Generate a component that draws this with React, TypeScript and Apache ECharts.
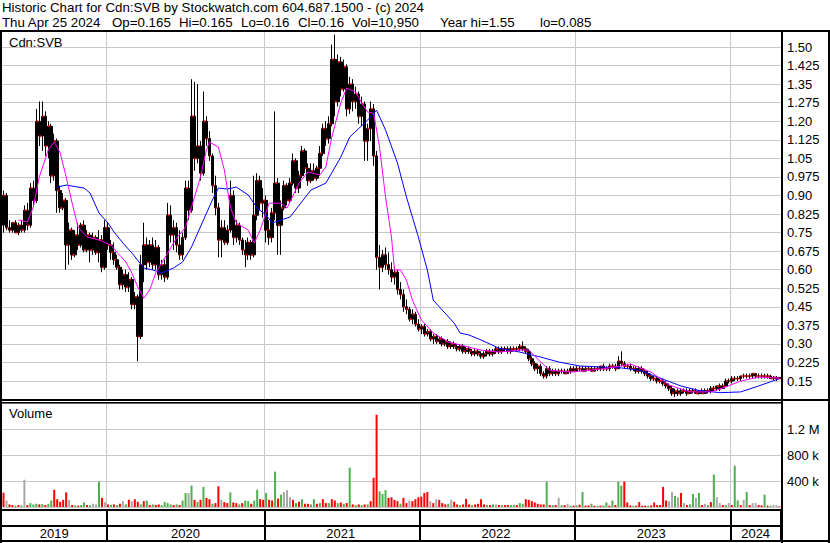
import React, { useEffect, useRef } from 'react';
import * as echarts from 'echarts';

// ---- data (weekly, first week ending Thu 2019-05-02, last 2024-04-25) ----
const startDate = '2019-05-02';
const weekCount = 261;

const opens = [
  0.78, 0.90, 0.77, 0.76, 0.79, 0.75, 0.78, 0.76, 0.84, 0.78,
  0.93, 0.88, 1.20, 1.14, 1.22, 1.10, 1.18, 0.98, 1.12, 0.92,
  0.85, 0.88, 0.70, 0.76, 0.66, 0.74, 0.70, 0.78, 0.68, 0.74,
  0.68, 0.73, 0.67, 0.72, 0.61, 0.77, 0.70, 0.67, 0.64, 0.61,
  0.54, 0.58, 0.53, 0.56, 0.46, 0.49, 0.33, 0.62, 0.70, 0.63,
  0.70, 0.62, 0.69, 0.58, 0.62, 0.57, 0.82, 0.74, 0.77, 0.70,
  0.66, 0.73, 0.93, 0.84, 1.22, 1.05, 1.10, 0.99, 1.20, 1.13,
  1.06, 0.94, 0.85, 0.72, 0.77, 0.71, 0.76, 0.90, 0.73, 0.78,
  0.72, 0.68, 0.66, 0.71, 0.66, 0.82, 0.96, 0.87, 0.88, 0.76,
  0.73, 0.83, 0.95, 0.78, 0.85, 0.94, 0.88, 0.95, 1.04, 0.93,
  0.98, 1.08, 1.01, 0.96, 1.00, 0.97, 1.01, 1.07, 1.17, 1.13,
  1.19, 1.45, 1.28, 1.44, 1.33, 1.42, 1.25, 1.35, 1.28, 1.31,
  1.22, 1.27, 1.12, 1.17, 1.25, 1.06, 0.65, 0.61, 0.66, 0.62,
  0.60, 0.57, 0.59, 0.52, 0.50, 0.45, 0.44, 0.40, 0.42, 0.38,
  0.36, 0.37, 0.34, 0.35, 0.32, 0.33, 0.31, 0.32, 0.30, 0.31,
  0.29, 0.30, 0.29, 0.28, 0.29, 0.27, 0.28, 0.27, 0.26, 0.27,
  0.26, 0.25, 0.26, 0.27, 0.26, 0.27, 0.28, 0.27, 0.28, 0.28,
  0.27, 0.28, 0.28, 0.28, 0.29, 0.28, 0.27, 0.24, 0.22, 0.20,
  0.21, 0.18, 0.17, 0.20, 0.18, 0.19, 0.18, 0.19, 0.19, 0.18,
  0.19, 0.20, 0.19, 0.20, 0.20, 0.19, 0.20, 0.20, 0.19, 0.20,
  0.20, 0.21, 0.20, 0.20, 0.21, 0.21, 0.20, 0.23, 0.22, 0.21,
  0.21, 0.20, 0.20, 0.19, 0.20, 0.19, 0.18, 0.17, 0.16, 0.16,
  0.15, 0.15, 0.14, 0.13, 0.12, 0.10, 0.11, 0.10, 0.11, 0.11,
  0.10, 0.11, 0.11, 0.10, 0.11, 0.10, 0.11, 0.11, 0.12, 0.12,
  0.13, 0.12, 0.13, 0.15, 0.15, 0.16, 0.16, 0.16, 0.17, 0.17,
  0.17, 0.17, 0.18, 0.17, 0.17, 0.17, 0.17, 0.17, 0.16, 0.165,
  0.165,
];
const highs = [
  0.92, 0.91, 0.80, 0.79, 0.80, 0.79, 0.80, 0.86, 0.87, 0.95,
  0.96, 1.25, 1.28, 1.28, 1.24, 1.20, 1.19, 1.15, 1.13, 0.94,
  0.91, 0.89, 0.79, 0.77, 0.76, 0.79, 0.79, 0.80, 0.76, 0.75,
  0.75, 0.74, 0.76, 0.74, 0.80, 0.79, 0.72, 0.71, 0.66, 0.62,
  0.60, 0.60, 0.59, 0.57, 0.51, 0.50, 0.66, 0.79, 0.73, 0.72,
  0.73, 0.72, 0.70, 0.64, 0.64, 0.87, 0.86, 0.80, 0.79, 0.76,
  0.75, 0.96, 0.96, 1.37, 1.36, 1.35, 1.12, 1.32, 1.22, 1.16,
  1.07, 0.98, 0.87, 0.80, 0.80, 0.78, 0.96, 0.92, 0.80, 0.79,
  0.73, 0.72, 0.73, 0.72, 0.98, 0.99, 0.98, 0.93, 0.90, 0.80,
  0.85, 1.24, 0.97, 0.88, 0.96, 0.95, 0.97, 1.07, 1.05, 1.00,
  1.10, 1.09, 1.03, 1.03, 1.03, 1.02, 1.10, 1.19, 1.20, 1.22,
  1.51, 1.55, 1.47, 1.46, 1.45, 1.43, 1.38, 1.37, 1.34, 1.32,
  1.30, 1.28, 1.19, 1.28, 1.27, 1.08, 0.70, 0.68, 0.69, 0.67,
  0.63, 0.61, 0.60, 0.55, 0.52, 0.48, 0.45, 0.44, 0.43, 0.40,
  0.38, 0.38, 0.36, 0.36, 0.34, 0.34, 0.33, 0.33, 0.32, 0.32,
  0.31, 0.31, 0.30, 0.30, 0.30, 0.29, 0.29, 0.28, 0.28, 0.28,
  0.27, 0.27, 0.28, 0.28, 0.28, 0.29, 0.29, 0.29, 0.29, 0.29,
  0.29, 0.29, 0.29, 0.30, 0.31, 0.29, 0.28, 0.25, 0.23, 0.22,
  0.22, 0.19, 0.21, 0.21, 0.20, 0.20, 0.20, 0.20, 0.20, 0.20,
  0.21, 0.21, 0.21, 0.21, 0.21, 0.21, 0.21, 0.21, 0.21, 0.21,
  0.21, 0.22, 0.21, 0.22, 0.22, 0.22, 0.25, 0.27, 0.23, 0.22,
  0.22, 0.21, 0.21, 0.21, 0.21, 0.20, 0.19, 0.18, 0.17, 0.17,
  0.16, 0.16, 0.15, 0.14, 0.13, 0.12, 0.12, 0.12, 0.12, 0.12,
  0.12, 0.12, 0.12, 0.11, 0.12, 0.12, 0.12, 0.13, 0.13, 0.13,
  0.14, 0.14, 0.16, 0.16, 0.17, 0.17, 0.17, 0.17, 0.18, 0.18,
  0.18, 0.18, 0.18, 0.18, 0.18, 0.18, 0.18, 0.175, 0.17, 0.17,
  0.165,
];
const lows = [
  0.75, 0.76, 0.75, 0.75, 0.75, 0.74, 0.75, 0.75, 0.76, 0.77,
  0.86, 0.87, 1.10, 1.08, 1.06, 1.05, 0.95, 0.96, 0.83, 0.83,
  0.84, 0.60, 0.62, 0.64, 0.65, 0.68, 0.69, 0.67, 0.67, 0.63,
  0.66, 0.66, 0.63, 0.59, 0.60, 0.68, 0.64, 0.62, 0.60, 0.52,
  0.52, 0.51, 0.51, 0.44, 0.44, 0.23, 0.32, 0.55, 0.60, 0.61,
  0.60, 0.60, 0.56, 0.56, 0.55, 0.56, 0.71, 0.68, 0.67, 0.64,
  0.64, 0.72, 0.80, 0.83, 1.00, 1.03, 0.96, 0.98, 1.10, 1.04,
  0.91, 0.82, 0.65, 0.65, 0.70, 0.70, 0.75, 0.70, 0.71, 0.70,
  0.66, 0.61, 0.64, 0.64, 0.65, 0.80, 0.84, 0.81, 0.71, 0.70,
  0.71, 0.80, 0.66, 0.66, 0.84, 0.86, 0.87, 0.94, 0.91, 0.91,
  0.97, 0.99, 0.94, 0.95, 0.96, 0.96, 0.98, 1.06, 1.10, 1.11,
  1.18, 1.22, 1.26, 1.30, 1.32, 1.22, 1.23, 1.24, 1.25, 1.19,
  1.18, 1.04, 1.04, 1.12, 1.02, 0.60, 0.52, 0.59, 0.60, 0.58,
  0.55, 0.54, 0.50, 0.48, 0.43, 0.42, 0.39, 0.38, 0.37, 0.35,
  0.34, 0.33, 0.33, 0.31, 0.30, 0.30, 0.30, 0.29, 0.29, 0.28,
  0.28, 0.28, 0.27, 0.27, 0.26, 0.26, 0.26, 0.25, 0.25, 0.25,
  0.24, 0.24, 0.25, 0.25, 0.25, 0.26, 0.26, 0.26, 0.27, 0.26,
  0.26, 0.27, 0.27, 0.27, 0.27, 0.26, 0.23, 0.21, 0.19, 0.18,
  0.17, 0.16, 0.16, 0.17, 0.17, 0.17, 0.17, 0.18, 0.18, 0.18,
  0.18, 0.19, 0.19, 0.19, 0.19, 0.19, 0.19, 0.19, 0.19, 0.19,
  0.19, 0.19, 0.19, 0.19, 0.20, 0.19, 0.20, 0.21, 0.20, 0.20,
  0.19, 0.19, 0.18, 0.18, 0.18, 0.17, 0.16, 0.15, 0.15, 0.14,
  0.14, 0.13, 0.12, 0.11, 0.09, 0.085, 0.09, 0.09, 0.10, 0.09,
  0.10, 0.10, 0.10, 0.095, 0.10, 0.10, 0.10, 0.10, 0.11, 0.11,
  0.11, 0.12, 0.13, 0.14, 0.14, 0.15, 0.15, 0.15, 0.16, 0.16,
  0.16, 0.16, 0.16, 0.16, 0.16, 0.16, 0.16, 0.16, 0.155, 0.15,
  0.16,
];
const closes = [
  0.90, 0.77, 0.76, 0.79, 0.75, 0.78, 0.76, 0.84, 0.78, 0.93,
  0.88, 1.20, 1.14, 1.22, 1.10, 1.18, 0.98, 1.12, 0.92, 0.85,
  0.88, 0.70, 0.76, 0.66, 0.74, 0.70, 0.78, 0.68, 0.74, 0.68,
  0.73, 0.67, 0.72, 0.61, 0.77, 0.70, 0.67, 0.64, 0.61, 0.54,
  0.58, 0.53, 0.56, 0.46, 0.49, 0.33, 0.62, 0.70, 0.63, 0.70,
  0.62, 0.69, 0.58, 0.62, 0.57, 0.82, 0.74, 0.77, 0.70, 0.66,
  0.73, 0.93, 0.84, 1.22, 1.05, 1.10, 0.99, 1.20, 1.13, 1.06,
  0.94, 0.85, 0.72, 0.77, 0.71, 0.76, 0.90, 0.73, 0.78, 0.72,
  0.68, 0.66, 0.71, 0.66, 0.82, 0.96, 0.87, 0.88, 0.76, 0.73,
  0.83, 0.95, 0.78, 0.85, 0.94, 0.88, 0.95, 1.04, 0.93, 0.98,
  1.08, 1.01, 0.96, 1.00, 0.97, 1.01, 1.07, 1.17, 1.13, 1.19,
  1.45, 1.28, 1.44, 1.33, 1.42, 1.25, 1.35, 1.28, 1.31, 1.22,
  1.27, 1.12, 1.17, 1.25, 1.06, 0.65, 0.61, 0.66, 0.62, 0.60,
  0.57, 0.59, 0.52, 0.50, 0.45, 0.44, 0.40, 0.42, 0.38, 0.36,
  0.37, 0.34, 0.35, 0.32, 0.33, 0.31, 0.32, 0.30, 0.31, 0.29,
  0.30, 0.29, 0.28, 0.29, 0.27, 0.28, 0.27, 0.26, 0.27, 0.26,
  0.25, 0.26, 0.27, 0.26, 0.27, 0.28, 0.27, 0.28, 0.28, 0.27,
  0.28, 0.28, 0.28, 0.29, 0.28, 0.27, 0.24, 0.22, 0.20, 0.21,
  0.18, 0.17, 0.20, 0.18, 0.19, 0.18, 0.19, 0.19, 0.18, 0.19,
  0.20, 0.19, 0.20, 0.20, 0.19, 0.20, 0.20, 0.19, 0.20, 0.20,
  0.21, 0.20, 0.20, 0.21, 0.21, 0.20, 0.23, 0.22, 0.21, 0.21,
  0.20, 0.20, 0.19, 0.20, 0.19, 0.18, 0.17, 0.16, 0.16, 0.15,
  0.15, 0.14, 0.13, 0.12, 0.10, 0.11, 0.10, 0.11, 0.11, 0.10,
  0.11, 0.11, 0.10, 0.11, 0.10, 0.11, 0.11, 0.12, 0.12, 0.13,
  0.12, 0.13, 0.15, 0.15, 0.16, 0.16, 0.16, 0.17, 0.17, 0.17,
  0.17, 0.18, 0.17, 0.17, 0.17, 0.17, 0.17, 0.16, 0.165, 0.16,
  0.16,
];
// weekly volume, thousands of shares
const volumesK = [
  220, 100, 40, 30, 20, 30, 25, 420, 30, 60,
  40, 50, 40, 45, 30, 50, 100, 265, 120, 80,
  110, 225, 110, 30, 25, 20, 30, 70, 30, 25,
  50, 40, 390, 140, 75, 40, 35, 40, 30, 50,
  90, 40, 110, 90, 120, 80, 40, 90, 100, 30,
  40, 30, 40, 30, 75, 60, 40, 30, 40, 30,
  100, 215, 215, 330, 110, 80, 110, 310, 140, 120,
  50, 60, 320, 110, 75, 60, 225, 70, 60, 40,
  60, 100, 90, 50, 100, 265, 120, 110, 215, 110,
  100, 545, 130, 190, 230, 260, 150, 110, 60, 80,
  120, 50, 50, 40, 120, 50, 60, 120, 60, 60,
  120, 100, 60, 70, 50, 60, 605, 40, 30, 40,
  30, 40, 40, 90, 450, 1420, 240, 200, 260, 140,
  150, 110, 90, 50, 140, 60, 100, 90, 120, 150,
  160, 215, 230, 90, 60, 120, 110, 60, 40, 50,
  110, 80, 40, 30, 40, 125, 40, 30, 40, 50,
  120, 40, 30, 30, 40, 40, 30, 30, 30, 30,
  30, 35, 30, 60, 50, 120, 110, 90, 70, 50,
  40, 40, 390, 30, 30, 30, 140, 30, 30, 50,
  20, 20, 25, 35, 230, 20, 25, 50, 20, 20,
  20, 25, 70, 20, 100, 30, 390, 330, 390, 70,
  25, 20, 20, 75, 20, 20, 20, 25, 70, 30,
  30, 310, 100, 90, 230, 170, 150, 215, 60, 30,
  40, 200, 140, 215, 30, 50, 30, 75, 500, 150,
  60, 30, 30, 60, 30, 635, 100, 30, 110, 230,
  30, 60, 60, 30, 25, 190, 20, 20, 30, 25,
  11,
];
// g = up week, r = down week, n = unchanged
const volumeTrend = (
  'rnrrgrgnrg' + 'ggrgrggrrr' + 'rrnrgrggrg' + 'nngrnrgrgr' + 'ngrnrrgrgr' +
  'grrggggrgr' + 'ggngrgrgrr' + 'grrnrrgrrg' + 'rggrggrrgr' + 'rgrgnnnrgr' +
  'grrggrgrrg' + 'rrgrgrgrgr' + 'grgrrrgggr' + 'rrrgrrnrrr' + 'rrrnrnrrrg' +
  'nrrgrrrgrr' + 'rrgrgnrgrr' + 'ggrggrrrrr' + 'rrgrgrngrn' + 'grgrgrrgrg' +
  'rggrgrggrr' + 'rgrrrrgrrr' + 'rrrnngnrnr' + 'ggngrngrgn' + 'nrgnrggrng' +
  'rnnrrgrgnn' + 'r'
).split('');

// moving averages: [week index, price]
const maShort: [number, number][] = [
  [5, 0.801], [8, 0.793], [10, 0.853], [12, 0.975], [15, 1.084], [17, 1.117], [19, 1.072],
  [21, 0.975], [23, 0.869], [25, 0.772], [28, 0.732], [32, 0.72], [36, 0.7], [38, 0.671],
  [41, 0.631], [43, 0.587], [45, 0.53], [47, 0.485], [49, 0.518], [51, 0.587], [55, 0.667],
  [58, 0.728], [61, 0.772], [63, 0.853], [66, 0.975], [68, 1.084], [69, 1.116], [72, 1.096],
  [74, 1.003], [76, 0.853], [78, 0.789], [82, 0.76], [84, 0.708], [86, 0.76], [89, 0.869],
  [93, 0.869], [95, 0.849], [99, 0.95], [102, 0.995], [106, 0.983], [108, 1.015], [110, 1.136],
  [113, 1.274], [115, 1.334], [118, 1.318], [120, 1.274], [122, 1.237], [124, 1.233],
  [126, 1.096], [128, 0.894], [130, 0.732], [131, 0.599], [133, 0.599], [135, 0.558],
  [137, 0.477], [140, 0.397], [144, 0.344], [149, 0.308], [153, 0.296], [160, 0.275],
  [166, 0.267], [173, 0.275], [176, 0.275], [180, 0.227], [183, 0.194], [190, 0.186],
  [200, 0.198], [207, 0.211], [210, 0.219], [217, 0.186], [223, 0.134], [230, 0.106],
  [237, 0.106], [242, 0.126], [247, 0.15], [253, 0.166], [260, 0.162],
];
const maLong: [number, number][] = [
  [18, 0.934], [21, 0.942], [27, 0.93], [29, 0.91], [32, 0.829], [35, 0.789], [37, 0.753],
  [40, 0.708], [43, 0.668], [47, 0.607], [50, 0.599], [53, 0.587], [57, 0.607], [60, 0.631],
  [63, 0.692], [67, 0.801], [70, 0.882], [72, 0.93], [75, 0.926], [78, 0.934], [82, 0.902],
  [85, 0.849], [88, 0.821], [90, 0.789], [93, 0.801], [96, 0.813], [103, 0.922], [108, 0.95],
  [113, 1.055], [116, 1.136], [122, 1.205], [125, 1.245], [128, 1.165], [132, 1.031],
  [135, 0.894], [139, 0.732], [142, 0.599], [144, 0.477], [147, 0.437], [151, 0.384],
  [153, 0.344], [156, 0.336], [160, 0.316], [166, 0.283], [173, 0.267], [180, 0.247],
  [186, 0.227], [193, 0.211], [200, 0.207], [207, 0.203], [213, 0.194], [220, 0.162],
  [227, 0.13], [233, 0.112], [240, 0.103], [247, 0.106], [253, 0.13], [260, 0.16],
];

const titleLine1 = 'Historic Chart for Cdn:SVB by Stockwatch.com 604.687.1500 - (c) 2024';
const titleLine2Parts = [
  'Thu Apr 25 2024', 'Op=0.165', 'Hi=0.165', 'Lo=0.16', 'Cl=0.16', 'Vol=10,950', 'Year hi=1.55', 'lo=0.085',
];
const titleLine2X = [2, 112, 179, 241, 298, 352, 440, 540];
const priceLabel = 'Cdn:SVB';
const volumeLabel = 'Volume';

const FONT = '"Liberation Sans", Arial, Helvetica, sans-serif';
const GRID_GRAY = '#c8c8c8';

function buildWeeks(start: string, n: number): string[] {
  const out: string[] = [];
  const t0 = Date.parse(start + 'T00:00:00Z');
  for (let i = 0; i < n; i++) {
    out.push(new Date(t0 + i * 7 * 86400000).toISOString().slice(0, 10));
  }
  return out;
}

export default function App() {
  const ref = useRef<HTMLDivElement>(null);
  useEffect(() => {
    if (!ref.current) return;
    const chart = echarts.init(ref.current, null, { renderer: 'svg' });
    const weeks = buildWeeks(startDate, weekCount);
    const years = weeks.map((d) => d.slice(0, 4));
    const boundary = new Set<number>();
    years.forEach((y, i) => { if (i > 0 && y !== years[i - 1]) boundary.add(i); });
    const labelIdx = new Set<number>();
    const firstIdx: Record<string, number> = {};
    const lastIdx: Record<string, number> = {};
    years.forEach((y, i) => { if (firstIdx[y] === undefined) firstIdx[y] = i; lastIdx[y] = i; });
    Object.keys(firstIdx).forEach((y) => labelIdx.add(Math.floor((firstIdx[y] + lastIdx[y]) / 2)));

    const splitGray = { show: true, interval: (i: number) => boundary.has(i), lineStyle: { color: GRID_GRAY, width: 1 } };
    const baseX = {
      type: 'category', data: weeks, boundaryGap: true,
      axisLine: { show: false }, axisTick: { show: false }, axisLabel: { show: false },
    };
    const priceFmt = (v: number) => {
      if (v < 0.1 || v > 1.55) return '';
      let s = v.toFixed(3);
      if (s.endsWith('0')) s = s.slice(0, -1);
      return s;
    };
    const volFmt = (v: number) => {
      if (v <= 0 || v >= 1600) return '';
      return v >= 1000 ? `${+(v / 1000).toFixed(1)} M` : `${v} k`;
    };
    const lab = { color: '#000', fontFamily: FONT, fontSize: 13 };
    const colorOf: Record<string, string> = { g: '#4cb04c', r: '#ff0000', n: '#a8a8a8' };

    const rect = (x: number, y: number, w: number, h: number, fill = '#000') => ({
      type: 'rect', z: 100, shape: { x, y, width: w, height: h }, style: { fill }, silent: true,
    });
    const text = (x: number, y: number, t: string, size = 13) => ({
      type: 'text', z: 101, x, y,
      style: { text: t, fill: '#000', fontSize: size, fontFamily: FONT, verticalAlign: 'middle', align: 'left' },
      silent: true,
    });

    chart.setOption({
      animation: false,
      backgroundColor: '#fff',
      grid: [
        { left: 2, top: 28.5, width: 779, height: 371.1, outerBoundsMode: 'none' },
        { left: 2, top: 403, width: 779, height: 104, outerBoundsMode: 'none' },
        { left: 2, top: 511, width: 779, height: 30, outerBoundsMode: 'none' },
      ],
      xAxis: [
        { ...baseX, gridIndex: 0, splitLine: splitGray },
        { ...baseX, gridIndex: 1, splitLine: splitGray },
        {
          ...baseX, gridIndex: 2,
          splitLine: { show: true, interval: (i: number) => boundary.has(i), lineStyle: { color: '#000', width: 2 } },
          axisLabel: {
            show: true, inside: true, margin: 1, ...lab,
            interval: (i: number) => labelIdx.has(i),
            formatter: (v: string) => v.slice(0, 4),
          },
        },
      ],
      yAxis: [
        {
          type: 'value', gridIndex: 0, position: 'right', min: 0.075, max: 1.575, interval: 0.075,
          axisLine: { show: false }, axisTick: { show: false },
          axisLabel: { margin: 6, formatter: priceFmt, ...lab },
          splitLine: { show: true, lineStyle: { color: GRID_GRAY, width: 1 } },
        },
        {
          type: 'value', gridIndex: 1, position: 'right', min: 0, max: 1600, interval: 400,
          axisLine: { show: false }, axisTick: { show: false },
          axisLabel: { margin: 6, formatter: volFmt, ...lab },
          splitLine: { show: true, lineStyle: { color: GRID_GRAY, width: 1 } },
        },
        { type: 'value', gridIndex: 2, min: 0, max: 1, show: false },
      ],
      series: [
        {
          type: 'candlestick', xAxisIndex: 0, yAxisIndex: 0, barWidth: 3,
          data: opens.map((o, i) => [o, closes[i], lows[i], highs[i]]),
          itemStyle: { color: '#000', color0: '#000', borderColor: '#000', borderColor0: '#000', borderWidth: 1 },
        },
        {
          type: 'scatter', xAxisIndex: 0, yAxisIndex: 0, data: closes,
          symbol: 'rect', symbolSize: 2, symbolOffset: [1, 0], itemStyle: { color: '#ff0000' }, z: 3,
        },
        {
          type: 'line', xAxisIndex: 0, yAxisIndex: 0, data: maLong, showSymbol: false, symbol: 'none',
          lineStyle: { color: '#0000ff', width: 1 }, z: 4,
        },
        {
          type: 'line', xAxisIndex: 0, yAxisIndex: 0, data: maShort, showSymbol: false, symbol: 'none',
          lineStyle: { color: '#ff00ff', width: 1 }, z: 5,
        },
        {
          type: 'bar', xAxisIndex: 1, yAxisIndex: 1, barWidth: 2,
          data: volumesK.map((v, i) => ({ value: v, itemStyle: { color: colorOf[volumeTrend[i]] } })),
        },
      ],
      graphic: [
        rect(0, 0, 830, 30, '#fff'),
        text(2, 7, titleLine1, 13.3),
        ...titleLine2Parts.map((t, i) => text(titleLine2X[i], 22, t, 13.3)),
        rect(0, 30, 830, 2),
        rect(0, 30, 2, 513),
        rect(781, 30, 2, 513),
        rect(828, 30, 2, 513),
        rect(0, 399, 830, 2),
        rect(0, 402, 783, 1.5),
        rect(0, 509, 783, 2),
        rect(0, 525, 783, 2),
        rect(0, 540, 830, 2),
        text(9, 42, priceLabel),
        text(9, 413, volumeLabel),
      ],
    });
    return () => chart.dispose();
  }, []);
  return <div ref={ref} style={{ position: 'absolute', left: 0, top: 0, width: 830, height: 543 }} />;
}
